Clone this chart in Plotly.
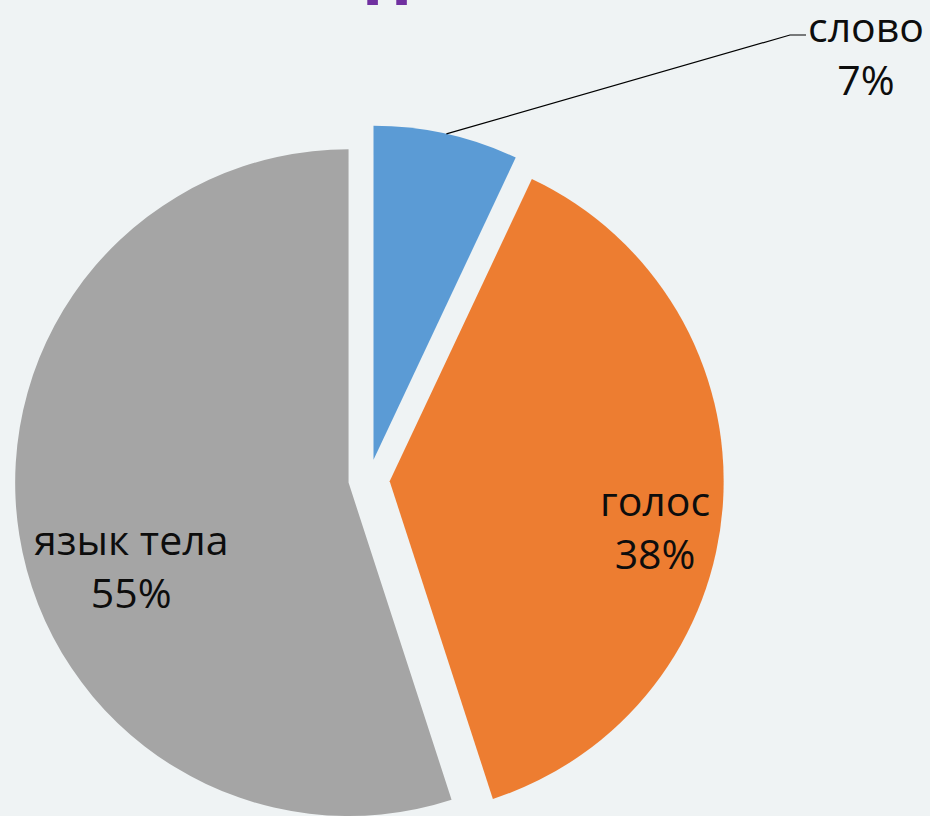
import math
import plotly.graph_objects as go

# ---- data ----
labels = ["слово", "голос", "язык тела"]
values = [7, 38, 55]
colors = ["#5B9BD5", "#ED7D31", "#A5A5A5"]

# ---- layout constants ----
W, H = 930, 816
CX, CY = 369.0, 480.0      # pie centre in px (before explode)
R = 334.0                  # pie radius in px
PULL = 0.062               # explode fraction of radius
FONT = "Open Sans"
FS = 41

total = sum(values)
fig = go.Figure()

centers = []
cum = 0.0
for k, (lab, val, col) in enumerate(zip(labels, values, colors)):
    mid = (cum + val / 2) / total * 2 * math.pi
    cum += val
    cx = CX + PULL * R * math.sin(mid)
    cy = CY - PULL * R * math.cos(mid)
    centers.append((cx, cy, mid))
    x0 = max(0.0, (cx - R) / W)
    x1 = min(1.0, (cx + R) / W)
    y0 = max(0.0, 1 - (cy + R) / H)
    y1 = min(1.0, 1 - (cy - R) / H)
    slice_cols = [col if i == k else "rgba(0,0,0,0)" for i in range(len(values))]
    fig.add_trace(go.Pie(
        labels=labels, values=values, sort=False, direction="clockwise",
        rotation=0, marker=dict(colors=slice_cols, line=dict(width=0)),
        textinfo="none", hoverinfo="label+percent", showlegend=False,
        domain=dict(x=[x0, x1], y=[y0, y1]),
    ))

def px(x, y):
    return x / W, 1 - y / H

# label annotations
lab_pos = [(866, 52), (655, 526), (131, 565)]
for (lab, val), (lx, ly) in zip(zip(labels, values), lab_pos):
    ax, ay = px(lx, ly)
    fig.add_annotation(x=ax, y=ay, xref="paper", yref="paper",
                       text=f"{lab}<br>{val}%", showarrow=False,
                       xanchor="center", yanchor="middle",
                       font=dict(family=FONT, size=FS, color="#0d0d0d"))

# leader line for the small slice
bcx, bcy, bmid = centers[0]
sx = bcx + R * math.sin(bmid)
sy = bcy - R * math.cos(bmid)
p0 = px(sx, sy)
p1 = px(790, 35)
p2 = px(806, 35)
fig.add_shape(type="path", xref="paper", yref="paper",
              path=f"M {p0[0]} {p0[1]} L {p1[0]} {p1[1]} L {p2[0]} {p2[1]}",
              line=dict(color="#000000", width=1.2))

# cut-off title fragment at the top
fig.add_annotation(x=386.5 / W, y=1 - 27.5 / H, xref="paper", yref="paper",
                   text="<b>П</b>", showarrow=False, xanchor="center",
                   yanchor="bottom",
                   font=dict(family=FONT, size=70, color="#7030A0"))

fig.update_layout(
    width=W, height=H,
    margin=dict(l=0, r=0, t=0, b=0),
    paper_bgcolor="#eff3f4",
    plot_bgcolor="#eff3f4",
    showlegend=False,
)

fig.write_html(
    "out.html",
    config={"displayModeBar": False},
    post_script="document.body.style.margin='0';document.body.style.overflow='hidden';",
)
